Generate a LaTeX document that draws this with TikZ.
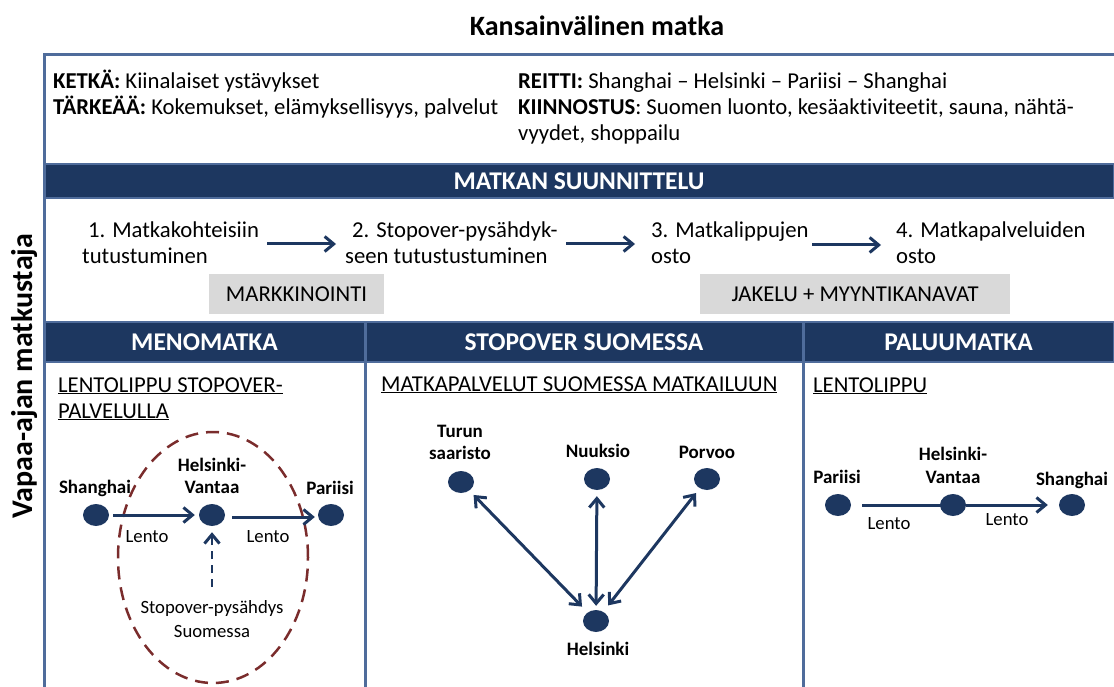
\documentclass[tikz,border=0pt]{standalone}
\usepackage{fontspec}
\setmainfont{Carlito}[Ligatures=NoCommon]
\usetikzlibrary{arrows.meta,shapes.geometric}
\definecolor{navy}{RGB}{29,55,96}
\definecolor{framecol}{RGB}{79,108,155}
\definecolor{tagfill}{RGB}{217,217,217}
\definecolor{loopcol}{RGB}{122,44,44}
\begin{document}
\begin{tikzpicture}[x=1pt,y=-1pt,
  txt/.style={inner sep=0pt, font=\fontsize{22.7}{26}\selectfont},
  small/.style={inner sep=0pt, font=\fontsize{18.7}{22}\selectfont},
  place/.style={inner sep=0pt, font=\bfseries\fontsize{19}{22}\selectfont},
  banner/.style={fill=navy, draw=framecol, line width=1.5pt, text=white,
    font=\bfseries\fontsize{25.5}{28}\selectfont, inner sep=0pt},
  tag/.style={fill=tagfill, inner sep=0pt, font=\fontsize{22.7}{26}\selectfont},
  dot/.style={ellipse, fill=navy, minimum width=26pt, minimum height=22pt, inner sep=0pt},
  tipA/.tip={Straight Barb[length=9pt,width=15pt,line width=3pt]},
  flow/.style={draw=navy, line width=3pt, -tipA},
  both/.style={draw=navy, line width=3pt, tipA-tipA},
  rule/.style={draw=framecol, line width=3pt},
]
\useasboundingbox (0,0) rectangle (1114,687);

% title and side label
\node[anchor=base, inner sep=0pt, font=\bfseries\fontsize{28}{32}\selectfont] (title) at (597,36) {Kansainvälinen matka};
\node[rotate=90, anchor=base, inner sep=0pt, font=\bfseries\fontsize{30}{34}\selectfont] (traveller) at (32,376) {Vapaa-ajan matkustaja};

% profile box
\node[txt, anchor=base west] (who) at (53,89) {\textbf{KETKÄ:} Kiinalaiset ystävykset};
\node[txt, anchor=base west] (imp) at (53,115) {\textbf{TÄRKEÄÄ:} Kokemukset, elämyksellisyys, palvelut};
\node[txt, anchor=base west] (route) at (518,89) {\textbf{REITTI:} Shanghai – Helsinki – Pariisi – Shanghai};
\node[txt, anchor=base west] (intA) at (518,115) {\textbf{KIINNOSTUS}: Suomen luonto, kesäaktiviteetit, sauna, nähtä-};
\node[txt, anchor=base west] (intB) at (518,141) {vyydet, shoppailu};

% planning band
\node[banner, minimum width=1070pt, minimum height=34pt] (plan) at (579,181) {MATKAN SUUNNITTELU};

\node[txt, anchor=base west] (s1a) at (88,238) {1. Matkakohteisiin};
\node[txt, anchor=base west] (s1b) at (82,264) {tutustuminen};
\node[txt, anchor=base west] (s2a) at (352,238) {2. Stopover-pysähdyk-};
\node[txt, anchor=base west] (s2b) at (345,264) {seen tutustustuminen};
\node[txt, anchor=base west] (s3a) at (651,238) {3. Matkalippujen};
\node[txt, anchor=base west] (s3b) at (651,264) {osto};
\node[txt, anchor=base west] (s4a) at (896,238) {4. Matkapalveluiden};
\node[txt, anchor=base west] (s4b) at (896,264) {osto};

\coordinate (a1s) at (267,244); \coordinate (a1e) at (336,244);
\coordinate (a2s) at (566,244); \coordinate (a2e) at (635,244);
\coordinate (a3s) at (812,245); \coordinate (a3e) at (881,245);
\draw[flow] (a1s) -- (a1e);
\draw[flow] (a2s) -- (a2e);
\draw[flow] (a3s) -- (a3e);

\node[tag, minimum width=175pt, minimum height=40pt] (mkt) at (296.5,294) {MARKKINOINTI};
\node[tag, minimum width=310pt, minimum height=40pt] (dist) at (855,294) {JAKELU + MYYNTIKANAVAT};

% column headers
\node[banner, minimum width=321pt, minimum height=40pt] (out) at (204.5,342) {MENOMATKA};
\node[banner, minimum width=438pt, minimum height=40pt] (stay) at (584,342) {STOPOVER SUOMESSA};
\node[banner, minimum width=311pt, minimum height=40pt] (back) at (958.5,342) {PALUUMATKA};

% frame
\draw[rule] (1114,55) -- (44,55) -- (44,687);
\draw[rule] (365,322) -- (365,687);
\draw[rule] (803,322) -- (803,687);

% outbound leg
\node[txt, anchor=base west] (outA) at (58,392) {\underline{LENTOLIPPU STOPOVER-}};
\node[txt, anchor=base west] (outB) at (58,418) {\underline{PALVELULLA}};

\node[ellipse, draw=loopcol, line width=2.5pt, dash pattern=on 13pt off 8pt,
  minimum width=190pt, minimum height=251pt, inner sep=0pt] (stopzone) at (213,557.5) {};

\node[dot] (mS) at (96,515) {};
\node[dot] (mH) at (212,515) {};
\node[dot] (mP) at (331,515) {};
\node[place, anchor=base] (mSl) at (95,493) {Shanghai};
\node[place, anchor=base] (mHl1) at (212,471) {Helsinki-};
\node[place, anchor=base] (mHl2) at (212,493) {Vantaa};
\node[place, anchor=base] (mPl) at (330,494) {Pariisi};
\draw[flow, shorten <=4pt, shorten >=4pt] (mS) -- (mH);
\draw[flow, shorten <=7pt, shorten >=3pt] (mH.east) ++(0,2) coordinate (mHr) (mHr) -- (mP.west |- mHr);
\node[small, anchor=base] (mL1) at (147,542) {Lento};
\node[small, anchor=base] (mL2) at (268,542) {Lento};
\node[small, anchor=base] (mstop1) at (212,613) {Stopover-pysähdys};
\node[small, anchor=base] (mstop2) at (212,637) {Suomessa};
\coordinate (mUp) at (212,587);
\draw[draw=navy, line width=2.5pt, dash pattern=on 8pt off 6pt, -tipA, shorten >=6pt] (mUp) -- (mH.south);

% stopover in Finland
\node[txt, anchor=base west] (stayA) at (381,391) {\underline{MATKAPALVELUT SUOMESSA MATKAILUUN}};
\node[dot] (fT) at (461,482) {};
\node[dot] (fN) at (597,479) {};
\node[dot] (fP) at (707,479) {};
\node[dot] (fH) at (596,621) {};
\node[place, anchor=base] (fTl1) at (460,437) {Turun};
\node[place, anchor=base] (fTl2) at (460,459) {saaristo};
\node[place, anchor=base] (fNl) at (598,457) {Nuuksio};
\node[place, anchor=base] (fPl) at (707,458) {Porvoo};
\node[place, anchor=base] (fHl) at (598,655) {Helsinki};
\draw[both, shorten <=6pt, shorten >=8pt] (fT) -- (fH);
\draw[both, shorten <=6pt, shorten >=4pt] (fN) -- (fH);
\draw[both, shorten <=6pt, shorten >=8pt] (fP) -- (fH);

% return leg
\node[txt, anchor=base west] (backA) at (813,392) {\underline{LENTOLIPPU}};
\node[dot] (rP) at (838,505) {};
\node[dot] (rH) at (953,505) {};
\node[dot] (rS) at (1072,505) {};
\node[place, anchor=base] (rPl) at (837,483) {Pariisi};
\node[place, anchor=base] (rHl1) at (953,460) {Helsinki-};
\node[place, anchor=base] (rHl2) at (953,483) {Vantaa};
\node[place, anchor=base] (rSl) at (1072,485) {Shanghai};
\draw[draw=navy, line width=3pt, shorten <=11pt] (rP) -- (rH.center);
\draw[flow, shorten >=11pt] (rH) -- (rS);
\node[small, anchor=base] (rL1) at (889,529) {Lento};
\node[small, anchor=base] (rL2) at (1007,525) {Lento};
\end{tikzpicture}
\end{document}
